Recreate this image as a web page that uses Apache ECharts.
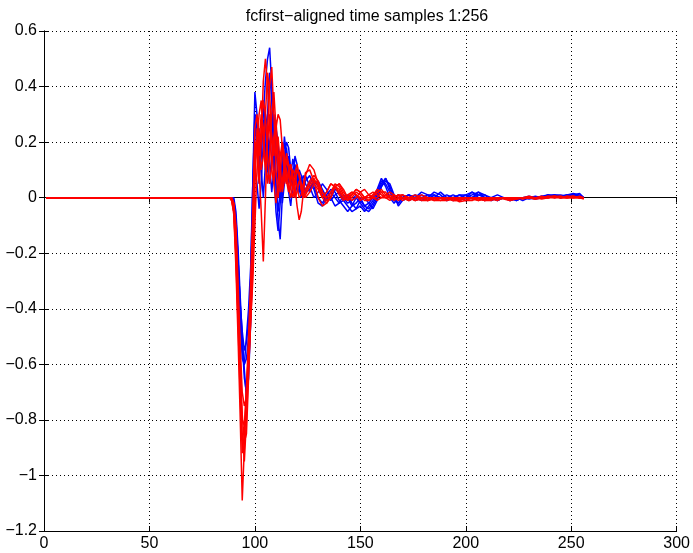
<!DOCTYPE html>
<html>
<head>
<meta charset="utf-8">
<script src="https://cdn.jsdelivr.net/npm/echarts@6/dist/echarts.min.js"></script>
<style>
  html, body { margin: 0; padding: 0; background: #fff; }
  #main { width: 693px; height: 553px; }
</style>
</head>
<body>
<div id="main"></div>
<script>
// sample indices shared by every trace (flat zero section before 86)
var samples = [1,
  86, 87, 88, 89, 90, 91, 92, 93, 94, 95, 96, 97, 98, 99, 100, 101, 102, 103, 104, 105,
  106, 107, 108, 109, 110, 111, 112, 113, 114, 115, 116, 117, 118, 119, 120, 121, 122, 123, 124,
  126, 128, 130, 132, 134, 136, 138, 140, 142, 144, 146, 148, 150, 152, 154, 156, 158, 160,
  162, 164, 166, 168, 170,
  173, 176, 179, 182, 185, 188, 191, 194, 197, 200, 203, 206, 209, 212, 215, 218, 221, 224,
  227, 230, 233, 236, 239, 242, 245, 248, 251, 254, 256];

// blue traces
var blue1 = [0,
  0, 0, 0, 0, -0.01, -0.08, -0.22, -0.38, -0.52, -0.65, -0.7, -0.6, -0.4, -0.1, 0.22, 0.28, 0.1, 0.15, 0.3, 0.42,
  0.5, 0.54, 0.4, 0.22, 0.05, -0.05, 0.02, 0.15, 0.2, 0.12, 0.05, 0.08, 0.14, 0.1, 0.04, 0.02, 0.06, 0.08, 0.05,
  0.02, 0.05, 0.06, 0.03, 0.0, -0.01, 0.01, 0.02, 0.0, -0.02, -0.01, 0.01, -0.01, -0.03, -0.04, -0.02, 0.01, 0.05, 0.07, 0.04, 0.0, -0.02, 0.0,
  0.01, 0.0, -0.01, 0.0, 0.02, 0.01, -0.01, 0.0, 0.01, 0.0, 0.01, 0.02, 0.0, -0.01, 0.0, 0.0, -0.01, -0.005, 0.0, 0.0, -0.005, 0.0, 0.005, 0.01, 0.005, 0.01, 0.01, 0.005, 0.0];
var blue2 = [0,
  0, 0, 0, 0, -0.02, -0.12, -0.3, -0.45, -0.55, -0.6, -0.58, -0.5, -0.3, 0.05, 0.38, 0.3, 0.12, 0.2, 0.28, 0.18,
  0.1, 0.2, 0.25, 0.15, 0.05, -0.08, -0.15, 0.0, 0.12, 0.18, 0.1, 0.05, 0.1, 0.12, 0.08, 0.03, 0.0, 0.03, 0.06,
  0.08, 0.04, 0.0, -0.02, 0.01, 0.03, 0.02, -0.01, -0.03, -0.05, -0.03, 0.0, -0.02, -0.04, -0.05, -0.03, 0.0, 0.04, 0.06, 0.05, 0.01, -0.03, -0.01,
  0.0, 0.01, 0.0, -0.01, 0.01, 0.0, 0.0, 0.01, 0.0, -0.01, 0.0, 0.01, 0.01, 0.0, -0.01, 0.0, 0.0, -0.01, 0.0, 0.005, 0.0, 0.0, 0.01, 0.005, 0.0, 0.01, 0.015, 0.01, 0.0];
var blue3 = [0,
  0, 0, 0, 0, 0, -0.05, -0.18, -0.35, -0.5, -0.62, -0.72, -0.65, -0.45, -0.2, 0.1, 0.05, -0.04, 0.05, 0.2, 0.3,
  0.25, 0.12, 0.02, 0.1, 0.25, 0.2, 0.08, -0.02, 0.05, 0.1, 0.15, 0.1, 0.04, 0.06, 0.1, 0.07, 0.02, 0.0, 0.03,
  0.06, 0.03, -0.02, -0.03, 0.0, 0.02, 0.0, -0.02, -0.01, 0.01, -0.02, -0.04, -0.03, -0.05, -0.03, -0.01, 0.02, 0.06, 0.05, 0.02, -0.01, -0.02, 0.0,
  0.01, 0.0, 0.01, 0.0, 0.0, 0.02, 0.0, -0.01, 0.0, 0.01, 0.02, 0.01, 0.0, 0.0, -0.01, 0.0, 0.0, 0.0, -0.01, 0.0, 0.0, 0.005, 0.0, 0.01, 0.01, 0.005, 0.01, 0.0, 0.0];
var blue4 = [0,
  0, 0, 0, 0, -0.01, -0.1, -0.25, -0.42, -0.58, -0.6, -0.5, -0.4, -0.25, 0.05, 0.3, 0.22, 0.25, 0.1, 0.0, 0.12,
  0.3, 0.45, 0.35, 0.1, -0.05, -0.12, -0.02, 0.1, 0.22, 0.15, 0.02, -0.03, 0.05, 0.15, 0.12, 0.04, 0.02, 0.05, 0.08,
  0.04, 0.0, 0.02, 0.05, 0.03, 0.0, -0.03, -0.02, 0.01, 0.0, -0.03, -0.02, 0.0, -0.03, -0.02, 0.0, 0.03, 0.07, 0.04, 0.0, -0.02, 0.0, 0.01,
  -0.01, 0.0, 0.02, 0.01, 0.0, 0.0, 0.01, 0.0, -0.01, 0.0, 0.02, 0.0, -0.01, 0.0, 0.01, 0.0, -0.01, 0.0, 0.0, -0.005, 0.0, 0.005, 0.01, 0.0, 0.005, 0.01, 0.01, 0.005, 0.0];
var blue5 = [0,
  0, 0, 0, 0, -0.01, -0.07, -0.22, -0.38, -0.48, -0.55, -0.52, -0.45, -0.3, -0.05, 0.3, 0.18, 0.05, 0.18, 0.35, 0.25,
  0.1, 0.05, 0.15, 0.3, 0.2, 0.05, 0.0, 0.05, 0.15, 0.2, 0.18, 0.1, 0.02, 0.0, 0.05, 0.1, 0.08, 0.04, 0.02,
  0.03, 0.06, 0.04, 0.01, -0.01, 0.0, 0.03, 0.02, -0.01, -0.03, -0.05, -0.04, -0.01, 0.0, -0.02, -0.04, -0.01, 0.04, 0.07, 0.03, 0.0, 0.01, 0.0,
  0.01, -0.01, 0.0, 0.01, 0.01, 0.0, -0.01, 0.0, 0.01, 0.01, 0.0, 0.02, 0.01, -0.01, 0.0, 0.0, 0.0, -0.01, 0.0, 0.0, 0.005, 0.0, 0.01, 0.01, 0.0, 0.005, 0.01, 0.015, 0.0];

// red traces
var red1 = [0,
  0, 0, 0, -0.01, -0.06, -0.25, -0.5, -0.78, -1.09, -0.9, -0.7, -0.55, -0.35, -0.1, 0.2, 0.18, 0.05, 0.2, 0.42, 0.5,
  0.4, 0.25, 0.1, 0.05, 0.15, 0.22, 0.12, 0.02, 0.06, 0.14, 0.1, 0.03, 0.0, 0.04, 0.1, 0.08, 0.03, 0.0, 0.02,
  0.05, 0.07, 0.04, 0.0, 0.02, 0.05, 0.04, 0.01, -0.01, 0.0, 0.02, 0.01, -0.01, 0.0, 0.01, 0.0, -0.01, 0.0, 0.01, 0.02, 0.01, 0.0, -0.01,
  0.0, 0.01, 0.0, -0.01, -0.005, 0.0, 0.0, -0.01, -0.01, 0.0, 0.0, -0.01, -0.005, 0.0, 0.0, -0.005, -0.01, -0.005, 0.0, 0.0, -0.005, 0.0, 0.0, 0.005, 0.0, 0.0, 0.005, 0.0, -0.005];
var red2 = [0,
  0, 0, 0, 0, -0.03, -0.18, -0.4, -0.62, -0.85, -0.95, -0.8, -0.62, -0.45, -0.25, 0.05, 0.25, 0.1, -0.05, -0.23, 0.0,
  0.25, 0.4, 0.47, 0.3, 0.1, 0.0, 0.08, 0.2, 0.15, 0.05, 0.08, 0.12, 0.06, 0.0, 0.02, 0.06, 0.05, 0.02, 0.0,
  0.02, 0.05, 0.03, 0.0, -0.02, 0.0, 0.04, 0.05, 0.02, 0.0, 0.01, 0.03, 0.02, 0.0, -0.01, 0.01, 0.03, 0.02, 0.0, -0.01, 0.0, 0.01, 0.0,
  -0.01, 0.0, 0.01, 0.0, -0.01, -0.01, 0.0, 0.0, -0.015, -0.01, 0.0, 0.0, -0.01, -0.005, 0.0, 0.0, -0.005, 0.0, 0.0, 0.005, 0.0, -0.005, 0.0, 0.005, 0.005, 0.0, 0.0, 0.005, 0.0];
var red3 = [0,
  0, 0, 0, -0.01, -0.05, -0.2, -0.42, -0.65, -0.8, -0.82, -0.7, -0.55, -0.4, -0.2, 0.1, 0.2, 0.3, 0.35, 0.2, 0.1,
  0.2, 0.3, 0.22, 0.15, 0.25, 0.3, 0.28, 0.18, 0.08, 0.05, 0.1, 0.12, 0.08, 0.04, -0.03, -0.08, -0.05, 0.02, 0.08,
  0.12, 0.1, 0.05, 0.0, 0.02, 0.05, 0.04, 0.02, 0.0, 0.01, 0.02, 0.01, 0.0, 0.0, 0.01, 0.02, 0.01, 0.0, 0.0, 0.01, 0.0, -0.01, 0.0,
  0.0, -0.01, -0.005, 0.0, 0.0, -0.01, -0.01, -0.005, 0.0, 0.0, -0.005, -0.01, 0.0, 0.0, -0.005, 0.0, 0.0, -0.005, 0.0, 0.0, 0.0, 0.005, 0.0, 0.0, 0.005, 0.0, 0.0, 0.0, 0.0];
var red4 = [0,
  0, 0, 0, 0, -0.02, -0.12, -0.35, -0.58, -0.78, -0.88, -0.85, -0.65, -0.4, -0.15, 0.15, 0.22, 0.15, 0.25, 0.35, 0.3,
  0.15, 0.05, 0.12, 0.22, 0.28, 0.15, 0.05, 0.03, 0.1, 0.16, 0.12, 0.06, 0.03, 0.06, 0.1, 0.09, 0.05, 0.02, 0.03,
  0.06, 0.08, 0.06, 0.02, -0.01, 0.0, 0.04, 0.05, 0.03, 0.0, -0.01, 0.0, 0.02, 0.03, 0.01, 0.0, 0.0, 0.02, 0.02, 0.0, -0.01, 0.0, 0.01,
  0.0, -0.01, 0.0, 0.0, -0.01, 0.0, 0.0, -0.01, -0.005, 0.0, 0.0, 0.0, -0.01, -0.01, 0.0, 0.0, -0.005, 0.0, 0.0, 0.0, -0.005, 0.0, 0.005, 0.0, 0.0, 0.005, 0.005, 0.0, 0.0];
var red5 = [0,
  0, 0, 0, -0.01, -0.05, -0.22, -0.45, -0.7, -0.92, -0.85, -0.68, -0.5, -0.3, -0.05, 0.25, 0.3, 0.2, 0.1, 0.15, 0.3,
  0.45, 0.38, 0.2, 0.05, -0.02, 0.05, 0.15, 0.2, 0.14, 0.06, 0.02, 0.06, 0.1, 0.08, 0.04, 0.0, 0.01, 0.05, 0.09,
  0.1, 0.06, 0.0, -0.03, -0.02, 0.02, 0.05, 0.04, 0.01, -0.01, 0.0, 0.02, 0.01, -0.01, -0.01, 0.0, 0.02, 0.03, 0.01, 0.0, 0.0, 0.01, 0.01,
  0.0, 0.0, -0.01, -0.01, 0.0, 0.0, -0.01, 0.0, 0.0, -0.01, -0.01, 0.0, 0.0, -0.005, -0.01, 0.0, 0.0, 0.0, -0.005, 0.0, 0.0, 0.0, 0.005, 0.005, 0.0, 0.0, 0.005, 0.0, 0.0];
var red6 = [0,
  0, 0, 0, 0, -0.02, -0.1, -0.3, -0.52, -0.7, -0.75, -0.72, -0.6, -0.45, -0.3, -0.1, 0.1, 0.2, 0.3, 0.25, 0.12,
  0.05, 0.15, 0.3, 0.38, 0.25, 0.1, 0.02, 0.06, 0.12, 0.1, 0.04, 0.0, 0.04, 0.09, 0.12, 0.08, 0.03, 0.0, 0.01,
  0.04, 0.06, 0.05, 0.02, 0.0, 0.02, 0.04, 0.03, 0.0, -0.01, 0.01, 0.03, 0.02, 0.0, 0.0, 0.01, 0.02, 0.01, 0.0, 0.0, 0.01, 0.0, 0.0,
  -0.01, 0.0, 0.0, -0.01, 0.0, 0.0, 0.0, -0.01, -0.01, 0.0, 0.0, -0.005, -0.01, 0.0, 0.0, 0.0, -0.01, 0.0, 0.0, 0.0, 0.0, 0.0, 0.0, 0.005, 0.0, 0.005, 0.0, 0.0, 0.0];

var blueTraces = [blue1, blue2, blue3, blue4, blue5];
var redTraces = [red1, red2, red3, red4, red5, red6];

var xTicks = [0, 50, 100, 150, 200, 250, 300];
var yTicks = [-1.2, -1, -0.8, -0.6, -0.4, -0.2, 0, 0.2, 0.4, 0.6];

var font = 'Liberation Sans, Arial, Helvetica, sans-serif';

function pairs(vals) {
  var out = [];
  for (var i = 0; i < vals.length; i++) out.push([samples[i], vals[i]]);
  return out;
}

var series = [];
blueTraces.forEach(function (v) {
  series.push({ type: 'line', data: pairs(v), showSymbol: false, symbol: 'none',
    lineStyle: { color: '#0000ff', width: 1.5 }, z: 2 });
});
redTraces.forEach(function (v) {
  series.push({ type: 'line', data: pairs(v), showSymbol: false, symbol: 'none',
    lineStyle: { color: '#ff0000', width: 1.5 }, z: 3 });
});

var boxAxis = {
  axisLine: { show: true, lineStyle: { color: '#000', width: 1 } },
  axisTick: { show: true, inside: true, length: 5, lineStyle: { color: '#000' } },
  axisLabel: { show: false },
  splitLine: { show: false }
};

var chart = echarts.init(document.getElementById('main'));
chart.setOption({
  animation: false,
  backgroundColor: '#fff',
  title: {
    text: 'fcfirst\u2212aligned time samples 1:256',
    left: 362, top: 4, textAlign: 'center',
    textStyle: { fontFamily: font, fontSize: 16, fontWeight: 'normal', color: '#000' }
  },
  grid: { left: 44, right: 13, top: 31, bottom: 22 },
  xAxis: [{
    type: 'value', min: 0, max: 300, interval: 50, position: 'bottom',
    axisLine: { show: true, onZero: false, lineStyle: { color: '#000', width: 1 } },
    axisTick: { show: true, inside: true, length: 5, lineStyle: { color: '#000' } },
    axisLabel: { color: '#000', fontFamily: font, fontSize: 16, margin: 5,
      formatter: function (v) { return xTicks.indexOf(v) >= 0 ? String(v) : ''; } },
    splitLine: { show: true, lineStyle: { color: '#000', type: [1, 3], width: 1 } }
  }, Object.assign({ type: 'value', min: 0, max: 300, interval: 50, position: 'top' }, boxAxis)],
  yAxis: [{
    type: 'value', min: -1.2, max: 0.6, interval: 0.2, position: 'left',
    axisLine: { show: true, onZero: false, lineStyle: { color: '#000', width: 1 } },
    axisTick: { show: true, inside: true, length: 5, lineStyle: { color: '#000' } },
    axisLabel: { color: '#000', fontFamily: font, fontSize: 16, margin: 7,
      formatter: function (v) {
        var r = Math.round(v * 10) / 10;
        return String(r).replace('-', '\u2212');
      } },
    splitLine: { show: true, lineStyle: { color: '#000', type: [1, 3], width: 1 } }
  }, Object.assign({ type: 'value', min: -1.2, max: 0.6, interval: 0.2, position: 'right' }, boxAxis)],
  series: series
});
</script>
</body>
</html>
